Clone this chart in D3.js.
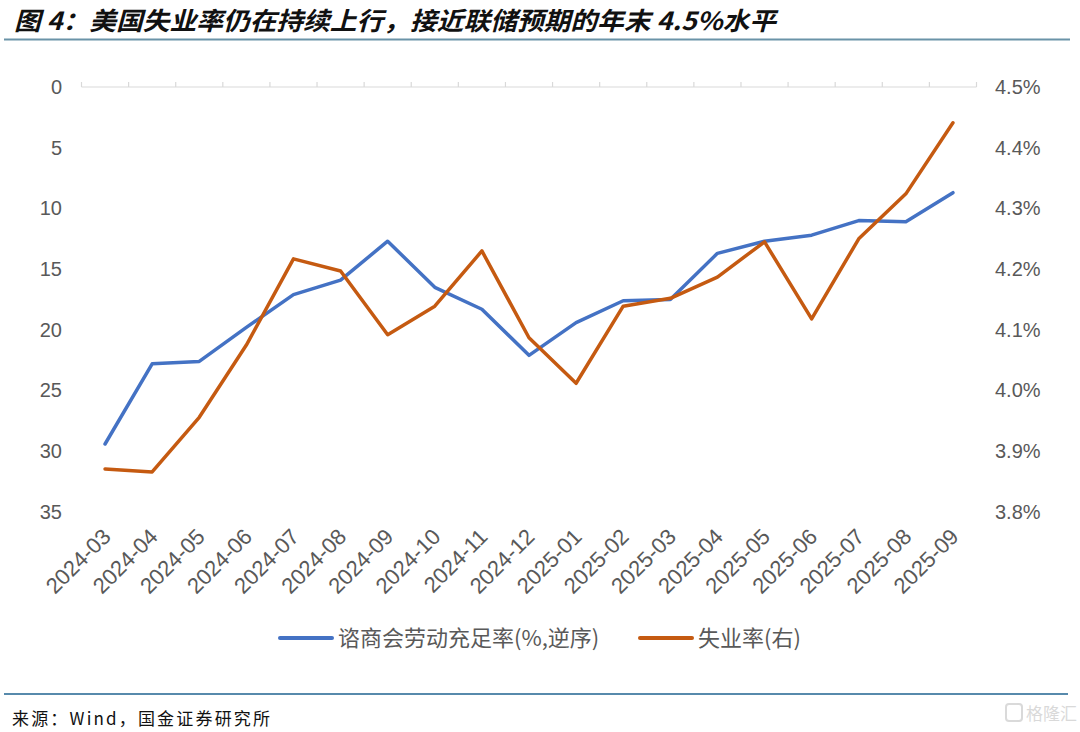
<!DOCTYPE html>
<html>
<head>
<meta charset="utf-8">
<script src="https://cdn.jsdelivr.net/npm/d3@7/dist/d3.min.js"></script>
<style>
  html, body { margin: 0; padding: 0; background: #fff; }
  svg { display: block; }
</style>
</head>
<body>
<svg id="chart" width="1080" height="732"></svg>
<script>
// ---------- data ----------
const categories = ["2024-03","2024-04","2024-05","2024-06","2024-07","2024-08","2024-09","2024-10","2024-11","2024-12",
                    "2025-01","2025-02","2025-03","2025-04","2025-05","2025-06","2025-07","2025-08","2025-09"];
const laborDiff = [29.4, 22.8, 22.6, 19.8, 17.1, 15.9, 12.7, 16.5, 18.3, 22.1,
                   19.4, 17.6, 17.5, 13.7, 12.7, 12.2, 11.0, 11.1, 8.7];
const unemployment = [3.871, 3.866, 3.956, 4.075, 4.217, 4.197, 4.092, 4.139, 4.230, 4.087,
                      4.012, 4.139, 4.152, 4.187, 4.245, 4.118, 4.250, 4.324, 4.441];
const leftTicks = [0, 5, 10, 15, 20, 25, 30, 35];
const rightTicks = [3.8, 3.9, 4.0, 4.1, 4.2, 4.3, 4.4, 4.5];
const seriesNames = ["谘商会劳动充足率(%,逆序)", "失业率(右)"];
const titleText = "图 4：美国失业率仍在持续上行，接近联储预期的年末 4.5%水平";
const sourceText = "来源：Wind，国金证券研究所";

// ---------- layout ----------
const svg = d3.select("#chart");
const plotLeft = 81.5, plotRight = 976.5, plotTop = 87, plotBottom = 512;
const blue = "#4472C4", orange = "#C55A11";
const tickColor = "#595959";
const numFont = "'Liberation Sans', Arial, sans-serif";
const cjkFont = "'Noto Sans CJK SC', 'Noto Sans', sans-serif";

const x = d3.scalePoint().domain(categories).range([plotLeft, plotRight]).padding(0.5);
const yL = d3.scaleLinear().domain([0, 35]).range([plotTop, plotBottom]);
const yR = d3.scaleLinear().domain([3.8, 4.5]).range([plotBottom, plotTop]);

// title
svg.append("text")
  .attr("x", 14).attr("y", 30)
  .attr("font-family", cjkFont)
  .attr("font-size", 25)
  .attr("font-weight", 700)
  .attr("font-style", "italic")
  .attr("fill", "#111")
  .attr("textLength", 762)
  .attr("lengthAdjust", "spacingAndGlyphs")
  .text(titleText);

svg.append("line")
  .attr("x1", 4).attr("x2", 1070).attr("y1", 39.5).attr("y2", 39.5)
  .attr("stroke", "#6A93A8").attr("stroke-width", 2);

// category axis at top (value 0 of reversed axis)
const step = x.step();
const axisG = svg.append("g");
axisG.append("line")
  .attr("x1", plotLeft).attr("x2", plotRight)
  .attr("y1", plotTop).attr("y2", plotTop)
  .attr("stroke", "#d9d9d9").attr("stroke-width", 1.2);
const boundaries = categories.map(c => x(c) - step / 2).concat([x(categories[categories.length - 1]) + step / 2]);
axisG.selectAll("line.tk").data(boundaries).join("line")
  .attr("class", "tk")
  .attr("x1", d => d).attr("x2", d => d)
  .attr("y1", plotTop).attr("y2", plotTop - 5)
  .attr("stroke", "#d9d9d9").attr("stroke-width", 1.2);

// left axis labels
const leftAxis = d3.axisLeft(yL).tickValues(leftTicks).tickSize(0).tickPadding(0).tickFormat(d3.format("d"));
const lg = svg.append("g").attr("transform", "translate(62,0)").call(leftAxis);
lg.select(".domain").remove();
lg.selectAll("text").attr("font-family", numFont).attr("font-size", 20).attr("fill", tickColor);

// right axis labels
const rightAxis = d3.axisRight(yR).tickValues(rightTicks).tickSize(0).tickPadding(0).tickFormat(d => d.toFixed(1) + "%");
const rg = svg.append("g").attr("transform", "translate(995,0)").call(rightAxis);
rg.select(".domain").remove();
rg.selectAll("text").attr("font-family", numFont).attr("font-size", 20).attr("fill", tickColor);

// x labels rotated
svg.append("g").selectAll("text").data(categories).join("text")
  .attr("transform", d => `translate(${x(d) + 7},${538}) rotate(-45)`)
  .attr("text-anchor", "end")
  .attr("font-family", numFont)
  .attr("font-size", 22)
  .attr("fill", tickColor)
  .text(d => d);

// lines
const lineL = d3.line().x((d, i) => x(categories[i])).y(d => yL(d));
const lineR = d3.line().x((d, i) => x(categories[i])).y(d => yR(d));
svg.append("path").datum(laborDiff).attr("d", lineL)
  .attr("fill", "none").attr("stroke", blue).attr("stroke-width", 3.5)
  .attr("stroke-linejoin", "round").attr("stroke-linecap", "round");
svg.append("path").datum(unemployment).attr("d", lineR)
  .attr("fill", "none").attr("stroke", orange).attr("stroke-width", 3.5)
  .attr("stroke-linejoin", "round").attr("stroke-linecap", "round");

// legend
const legendItems = [
  { name: seriesNames[0], color: blue, x: 280 },
  { name: seriesNames[1], color: orange, x: 640 }
];
const leg = svg.append("g");
legendItems.forEach(it => {
  leg.append("line")
    .attr("x1", it.x).attr("x2", it.x + 52).attr("y1", 638).attr("y2", 638)
    .attr("stroke", it.color).attr("stroke-width", 4).attr("stroke-linecap", "round");
  leg.append("text")
    .attr("x", it.x + 58).attr("y", 646)
    .attr("font-family", cjkFont).attr("font-size", 22).attr("fill", tickColor)
    .text(it.name);
});

// bottom rule and source
svg.append("line")
  .attr("x1", 4).attr("x2", 1068).attr("y1", 694).attr("y2", 694)
  .attr("stroke", "#1F6391").attr("stroke-width", 1.5);
svg.append("text")
  .attr("x", 12).attr("y", 725)
  .attr("font-family", cjkFont).attr("font-size", 17).attr("fill", "#111")
  .attr("textLength", 258).attr("lengthAdjust", "spacing")
  .text(sourceText);

// watermark
const wm = svg.append("g").attr("opacity", 0.55);
wm.append("rect").attr("x", 1006).attr("y", 704).attr("width", 16).attr("height", 17)
  .attr("rx", 3).attr("fill", "none").attr("stroke", "#bbb").attr("stroke-width", 2);
wm.append("text").attr("x", 1026).attr("y", 720)
  .attr("font-family", cjkFont).attr("font-size", 17).attr("fill", "#bbb")
  .text("格隆汇");
</script>
</body>
</html>
